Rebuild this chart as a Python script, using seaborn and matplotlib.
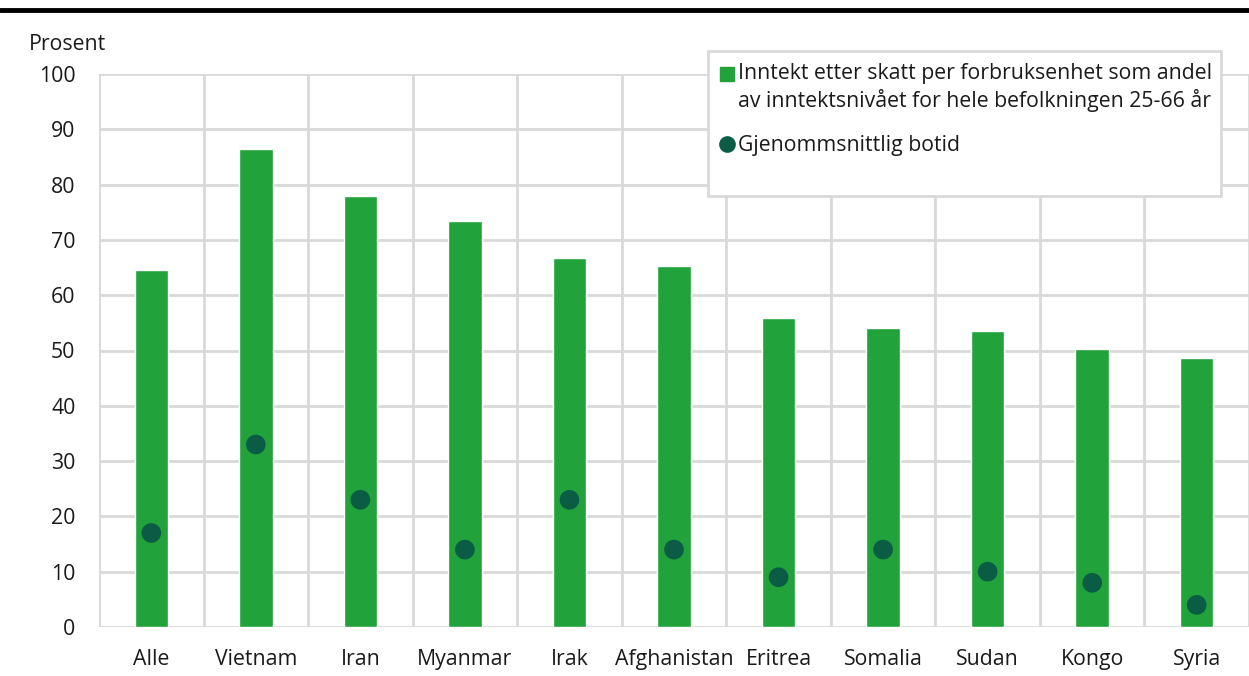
import matplotlib
matplotlib.use("Agg")
import matplotlib.pyplot as plt
from matplotlib.lines import Line2D
from matplotlib.patches import Rectangle
import seaborn as sns
import pandas as pd

categories = ["Alle", "Vietnam", "Iran", "Myanmar", "Irak", "Afghanistan",
              "Eritrea", "Somalia", "Sudan", "Kongo", "Syria"]
inntekt_andel = [64.5, 86.4, 77.9, 73.4, 66.7, 65.3, 55.9, 54.1, 53.5, 50.3, 48.6]
botid = [17, 33, 23, 14, 23, 14, 9, 14, 10, 8, 4]
yticks = [0, 10, 20, 30, 40, 50, 60, 70, 80, 90, 100]

label_bar_lines = ["Inntekt etter skatt per forbruksenhet som andel",
                   "av inntektsnivået for hele befolkningen 25-66 år"]
label_dot = "Gjenommsnittlig botid"

BAR_GREEN = "#21a23a"
DOT_GREEN = "#0a5c45"
GRID = "#d9d9d9"
TEXT = "#1a1a1a"
FS = 15.3

sns.set_theme(style="white")
plt.rcParams["font.family"] = ["Open Sans", "DejaVu Sans"]

df = pd.DataFrame({"land": categories, "inntekt": inntekt_andel, "botid": botid})

W, H = 1249, 676
fig = plt.figure(figsize=(W / 100, H / 100), dpi=100)
ax = fig.add_axes([99 / W, 1 - 627 / H, 1 - 99 / W, (627 - 74) / H])


def fx(px):
    return px / W


def fy(py):
    return 1 - py / H


sns.barplot(data=df, x="land", y="inntekt", color=BAR_GREEN, width=0.32,
            saturation=1, ax=ax, zorder=3)
sns.scatterplot(data=df, x="land", y="botid", color=DOT_GREEN, s=200,
                edgecolor="none", ax=ax, zorder=4)

ax.set_xlim(-0.5, len(categories) - 0.5)
ax.set_ylim(0, 100)
ax.set_yticks(yticks)
ax.set_yticklabels([str(t) for t in yticks])
ax.set_xticks(range(len(categories)))
ax.set_xticklabels(categories)
ax.set_xlabel("")
ax.set_ylabel("")

# horizontal grid at every tick, vertical grid between categories
for t in yticks:
    ax.axhline(t, color=GRID, lw=2, zorder=1)
for b in range(len(categories) + 1):
    ax.axvline(b - 0.5, color=GRID, lw=2, zorder=1)

for s in ax.spines.values():
    s.set_visible(False)

ax.tick_params(axis="both", length=0, labelsize=FS, colors=TEXT)
ax.tick_params(axis="x", pad=16)
ax.tick_params(axis="y", pad=17)

fig.text(fx(29), fy(45), "Prosent", fontsize=FS, color=TEXT,
         va="center", ha="left")

# thick rule across the top of the figure
fig.add_artist(Line2D([0, 1], [fy(9.5), fy(9.5)], color="black", lw=3.5))

# legend box with its keys and labels
fig.add_artist(Rectangle((fx(708), fy(196)), fx(1221 - 708), (196 - 51) / H,
                         transform=fig.transFigure, facecolor="white",
                         edgecolor=GRID, lw=2, zorder=5))
fig.add_artist(Line2D([fx(727)], [fy(74)], marker="s", linestyle="none",
                      color=BAR_GREEN, markersize=9.5, zorder=6))
fig.add_artist(Line2D([fx(727)], [fy(144)], marker="o", linestyle="none",
                      color=DOT_GREEN, markersize=11, zorder=6))
for txt, y in zip(label_bar_lines, [74, 101]):
    fig.text(fx(738), fy(y), txt, fontsize=FS, color=TEXT, va="center",
             ha="left", zorder=7)
fig.text(fx(738), fy(146), label_dot, fontsize=FS, color=TEXT, va="center",
         ha="left", zorder=7)

fig.savefig("out.png", dpi=100)
